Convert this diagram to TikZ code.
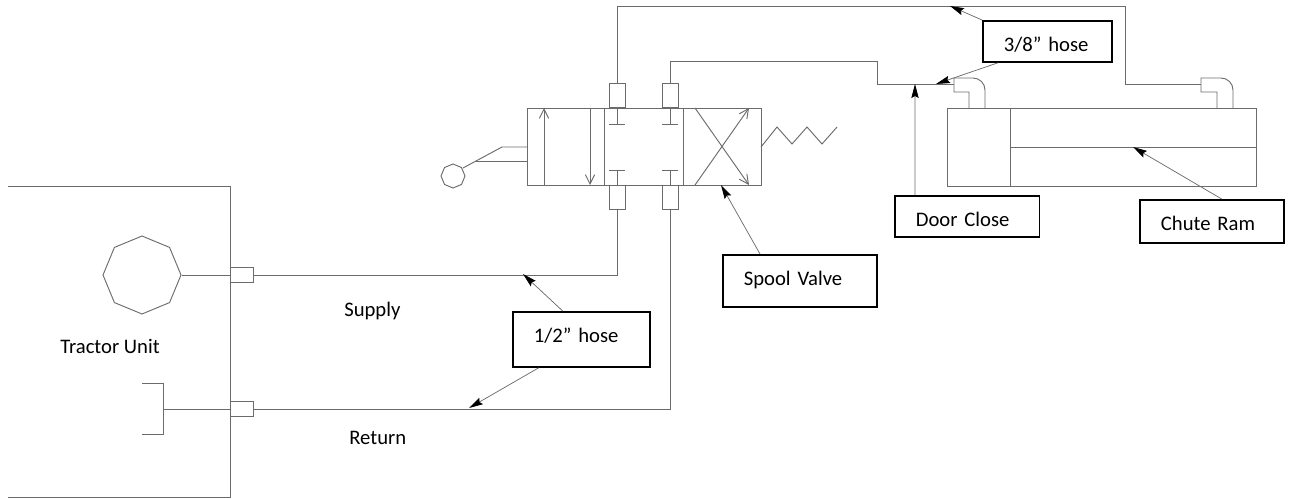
\documentclass[tikz,border=0pt]{standalone}
\usepackage{fontspec}
\setmainfont{Carlito}
\usetikzlibrary{arrows.meta, shapes.geometric}
\definecolor{hoseline}{gray}{0.42}
\tikzset{
	pipe/.style={draw=hoseline, line width=0.7pt},
	fitting/.style={pipe, inner sep=0pt},
	leader/.style={draw=hoseline, line width=0.55pt, -{Stealth[length=10.5pt, width=5.5pt, inset=1.5pt, black]}},
	openhead/.style={pipe, -{Straight Barb[length=7pt, width=7pt, hoseline]}},
	labelbox/.style={draw=black, line width=1.3pt, inner sep=0pt, align=left, anchor=north west, text height=23.3pt,
		font=\fontsize{15.5}{18}\selectfont, execute at begin node=\hspace*{15.75pt}},
	plaintext/.style={font=\fontsize{15.5}{18}\selectfont, inner sep=0pt, anchor=base west},
	octagon/.style={regular polygon, regular polygon sides=8, shape border rotate=22.5, pipe, inner sep=0pt}
}
\begin{document}
\begin{tikzpicture}[x=0.75pt, y=-0.75pt]
	\useasboundingbox (0,0) rectangle (1294,499);
	% tractor unit
	\draw [pipe] (8,186) -- (230,186) -- (230,497) -- (8,497);
	\node [octagon, minimum size=58.5pt] (pump) at (142,275) {};
	\draw [pipe] (142,383) -- (163,383) -- (163,434) -- (142,434);
	\coordinate (tank) at (163,409);
	\node [fitting, minimum width=17.2pt, minimum height=11.2pt, anchor=west] (supplyfit) at (230,275) {};
	\node [fitting, minimum width=17.2pt, minimum height=11.2pt, anchor=west] (returnfit) at (230,409) {};
	\draw [pipe] (pump.east) -- (supplyfit.west);
	\draw [pipe] (tank) -- (returnfit.west);
	\node [plaintext] (tractor) at (60,353) {Tractor Unit};
	\node [plaintext] (supply) at (344,316) {Supply};
	\node [plaintext] (return) at (349,444) {Return};

	% spool valve
	\draw [pipe] (527,108) rectangle (761,185);
	\draw [pipe] (604,108) -- (604,185) (683,108) -- (683,185);
	\draw [openhead] (544,185) -- (544,108);
	\draw [openhead] (590,108) -- (590,185);
	\draw [openhead] (695,185) -- (749,108);
	\draw [openhead] (695,108) -- (749,185);
	\foreach \px/\pname in {617/a, 670/b} {
		\node [fitting, minimum width=12pt, minimum height=18pt, anchor=south] (top\pname) at (\px,108) {};
		\node [fitting, minimum width=12pt, minimum height=18pt, anchor=north] (bot\pname) at (\px,185) {};
		\draw [pipe] (\px,108) -- (\px,124) (\px-8,124) -- (\px+8,124);
		\draw [pipe] (\px,185) -- (\px,170) (\px-8,170) -- (\px+8,170);
	}
	% handle and spring
	\node [octagon, minimum size=18pt] (knob) at (453,176) {};
	\draw [pipe] (463,168) -- (502,147) -- (527,147);
	\draw [pipe] (476,161) -- (527,161);
	\draw [pipe] (761,147) -- (777,127) -- (792,144) -- (807,127) -- (822,144) -- (837,127);

	% cylinder
	\draw [pipe] (947,108) rectangle (1256,186);
	\draw [pipe] (1010,108) -- (1010,186);
	\draw [pipe] (1010,147) -- (1256,147);
	\coordinate (doorport) at (954,84);
	\coordinate (ramport) at (1201,84);
	\draw [pipe] (969,108) -- (969,92) -- (954,92) -- (954,78) -- (973,78) to[out=0, in=90] (985,90) -- (985,108);
	\draw [pipe] (1217,108) -- (1217,92) -- (1201,92) -- (1201,78) -- (1221,78) to[out=0, in=90] (1233,90) -- (1233,108);

	% hoses
	\draw [pipe] (supplyfit.east) -- (617,275) -- (bota.south);
	\draw [pipe] (returnfit.east) -- (670,409) -- (botb.south);
	\draw [pipe] (topa.north) -- (617,6) -- (1125,6) -- (1125,84) -- (ramport);
	\draw [pipe] (topb.north) -- (670,61) -- (877,61) -- (877,84) -- (doorport);

	% labels
	\node [labelbox, text width=96.8pt, text depth=7.5pt] (eighth) at (982,20) {3/8” hose};
	\node [labelbox, text width=102.8pt, text depth=18pt] (half) at (512,311) {1/2” hose};
	\node [labelbox, text width=115.5pt, text depth=15.7pt] (spool) at (722,254) {Spool Valve};
	\node [labelbox, text width=108.5pt, text depth=7.5pt] (door) at (894,195) {Door Close};
	\node [labelbox, text width=108pt, text depth=9pt] (chute) at (1139,199) {Chute Ram};

	\coordinate (upperhose) at (950,6);
	\coordinate (lowerhose) at (936,84);
	\coordinate (doorhose) at (915,84);
	\coordinate (rod) at (1133,147);
	\coordinate (valvebase) at (721,185);
	\coordinate (supplyhose) at (523,274);
	\coordinate (returnhose) at (469,408);
	\draw [leader] (eighth.north west) -- (upperhose);
	\draw [leader] (eighth.south west) ++(12pt,0) -- (lowerhose);
	\draw [leader] (door.north west) ++(15.7pt,0) -- (doorhose);
	\draw [leader] (chute.north west) ++(62pt,0) -- (rod);
	\draw [leader] (spool.north west) ++(28.5pt,0) -- (valvebase);
	\draw [leader] (half.north west) ++(38pt,0) -- (supplyhose);
	\draw [leader] (half.south west) ++(20pt,0) -- (returnhose);
\end{tikzpicture}
\end{document}
